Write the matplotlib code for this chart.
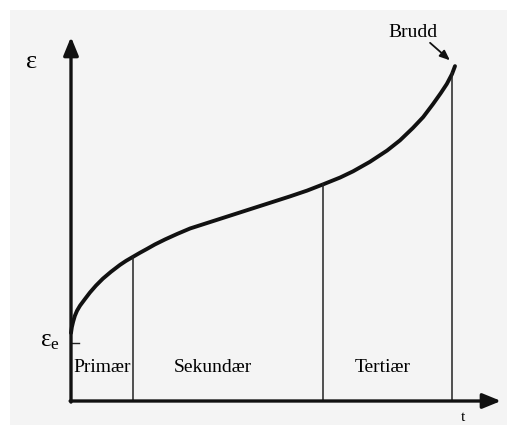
import matplotlib
matplotlib.use("Agg")
import matplotlib.pyplot as plt
from matplotlib.patches import Rectangle

plt.rcParams['font.family'] = ['Liberation Serif', 'DejaVu Serif']
plt.rcParams['mathtext.fontset'] = 'custom'
plt.rcParams['mathtext.rm'] = 'Liberation Serif'
plt.rcParams['mathtext.it'] = 'Liberation Serif:italic'

# Creep curve (time t, strain eps)
t_curve = [0.0, 0.02, 0.05, 0.09, 0.14, 0.21, 0.33, 0.44, 0.58, 0.74, 0.93,
           1.14, 1.28, 1.44, 1.60, 1.77, 1.95, 2.19, 2.47, 2.77, 3.35, 3.93,
           4.51, 5.09, 5.49, 5.86, 6.26, 6.56, 6.95, 7.35, 7.65, 7.95, 8.19,
           8.42, 8.60, 8.74, 8.86, 8.93]
eps_curve = [1.87, 2.03, 2.18, 2.34, 2.48, 2.62, 2.81, 2.98, 3.17, 3.36, 3.55,
             3.74, 3.85, 3.96, 4.07, 4.18, 4.30, 4.44, 4.59, 4.74, 4.96, 5.18,
             5.40, 5.62, 5.78, 5.95, 6.14, 6.31, 6.57, 6.88, 7.16, 7.50, 7.80,
             8.16, 8.46, 8.71, 8.98, 9.20]

# Stage boundaries (t) and the heights of their vertical lines
stage_t = [1.44, 5.86, 8.86]
stage_top = [3.96, 5.95, 9.0]
stage_labels = ['Primær', 'Sekundær', 'Tertiær']
stage_label_t = [0.72, 3.30, 7.26]
stage_label_eps = 0.91

eps_e = 1.6
rupture_point = (8.86, 9.31)

W, H = 507, 425
fig = plt.figure(figsize=(W / 100, H / 100), dpi=100, facecolor='white')
fig.patches.append(Rectangle((10 / W, 0), 1, (H - 10) / H, transform=fig.transFigure,
                             facecolor='#f4f4f4', edgecolor='none', zorder=-10))

x0, y0 = 71, 401      # origin in pixels
xs, ys = 43.0, 36.4   # pixels per data unit
ax = fig.add_axes([x0 / W, (H - y0) / H, 10 * xs / W, 10 * ys / H])
ax.set_xlim(0, 10)
ax.set_ylim(0, 10)
ax.set_axis_off()
ax.patch.set_alpha(0)

# axes with arrows
ax.annotate('', xy=(10.0, 0), xytext=(-0.02, 0), annotation_clip=False,
            arrowprops=dict(arrowstyle='-|>,head_length=1.1,head_width=0.45',
                            lw=2.4, color='#111111', shrinkA=0, shrinkB=0))
ax.annotate('', xy=(0, 10.0), xytext=(0, -0.03), annotation_clip=False,
            arrowprops=dict(arrowstyle='-|>,head_length=1.1,head_width=0.45',
                            lw=2.4, color='#111111', shrinkA=0, shrinkB=0))

# curve
ax.plot(t_curve, eps_curve, color='#111111', lw=2.8, solid_capstyle='round',
        solid_joinstyle='round', clip_on=False)

# stage boundaries
for t, top in zip(stage_t, stage_top):
    ax.plot([t, t], [0, top], color='#222222', lw=1.1)

for lab, t in zip(stage_labels, stage_label_t):
    ax.text(t, stage_label_eps, lab, ha='center', va='center', fontsize=14, color='#000000')

# eps_e tick and label
ax.plot([0, 0.18], [eps_e, eps_e], color='#222222', lw=1.0, clip_on=False)
ax.text(-0.25, eps_e + 0.05, r'$\mathrm{ε_e}$', ha='right', va='center', fontsize=18,
        color='#000000', clip_on=False)

# axis labels
ax.text(-0.91, 9.31, 'ε', ha='center', va='center', fontsize=19, color='#000000',
        clip_on=False)
ax.text(9.12, -0.56, 't', ha='center', va='baseline', fontsize=11, color='#000000',
        clip_on=False)

# rupture
ax.text(7.95, 10.13, 'Brudd', ha='center', va='center', fontsize=14, color='#000000',
        clip_on=False)
ax.annotate('', xy=rupture_point, xytext=(8.35, 9.84), annotation_clip=False,
            arrowprops=dict(arrowstyle='-|>,head_length=0.6,head_width=0.25',
                            lw=1.3, color='#111111', shrinkA=0, shrinkB=2))

fig.savefig('out.png', dpi=100, facecolor=fig.get_facecolor())
